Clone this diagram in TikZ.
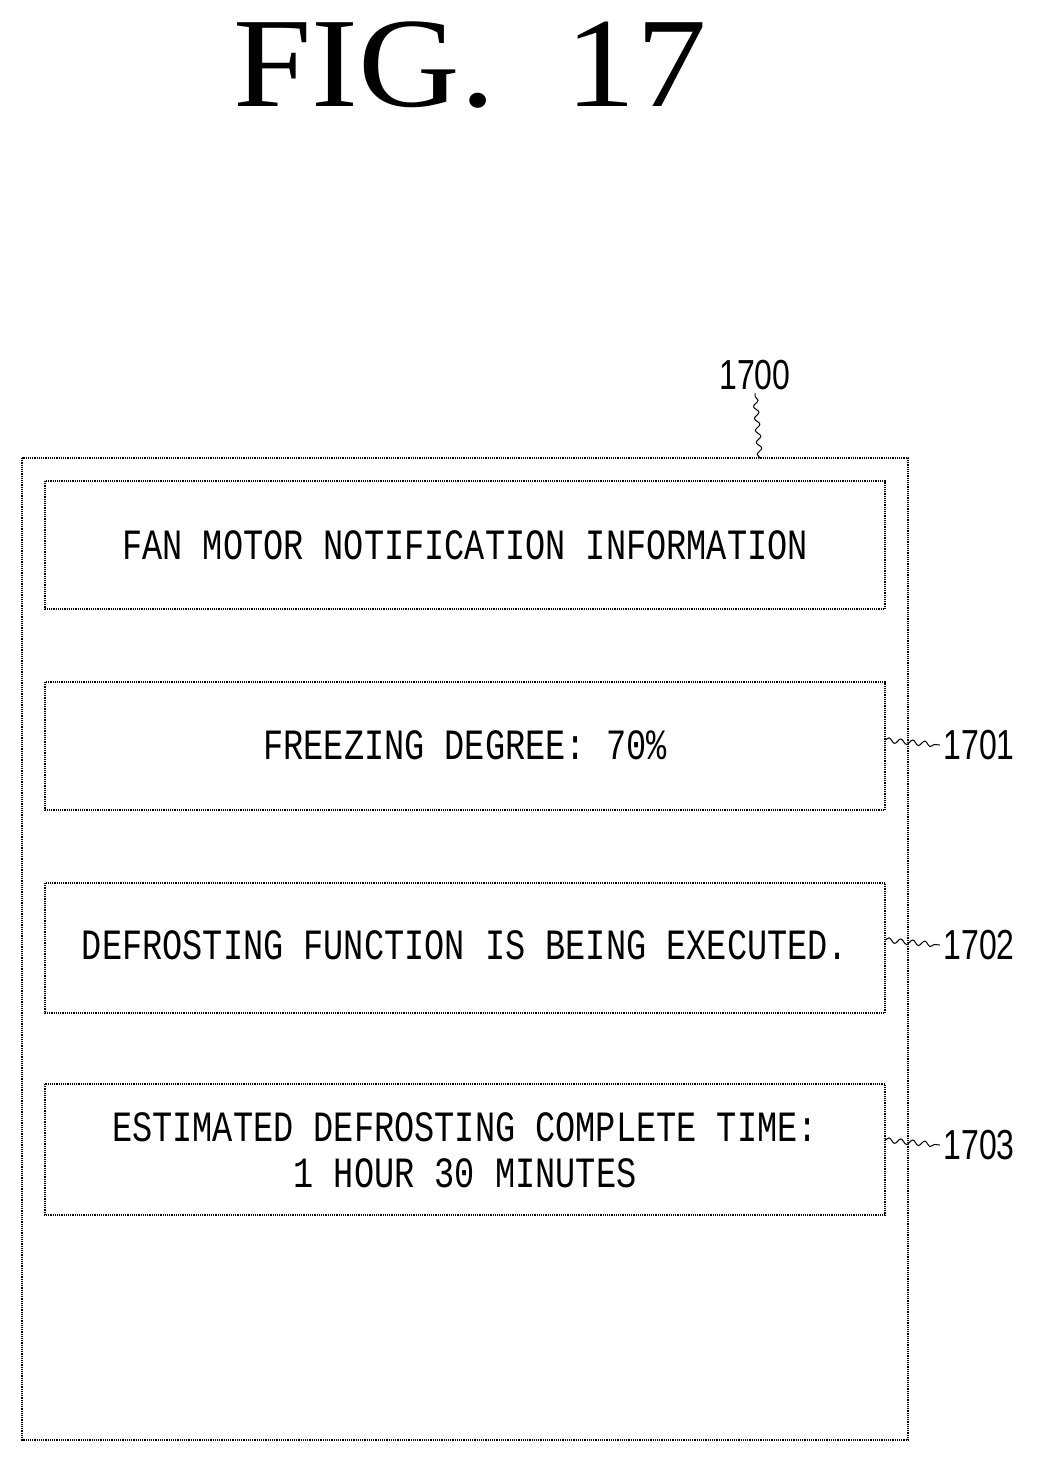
\documentclass[tikz,border=0pt]{standalone}
\usepackage{fontspec}
\setmainfont{Liberation Serif}
\newfontfamily\boxfont{Liberation Mono}
\newfontfamily\reffont{Liberation Sans}
\usetikzlibrary{decorations.pathmorphing}
\tikzset{
 panel/.style={draw, line width=1.2pt, densely dotted},
 msg/.style={draw, line width=1.2pt, densely dotted},
 txt/.style={font=\boxfont\fontsize{32}{50}\selectfont, align=center},
 lead/.style={line width=1pt, decorate, decoration={snake, amplitude=2.5pt, segment length=12pt}},
 ref/.style={font=\reffont\fontsize{40}{44}\selectfont, anchor=west}
}
\newcommand{\tall}[1]{\scalebox{1.05}[1.35]{#1}}
\newcommand{\nar}[1]{\scalebox{0.8}[1.05]{#1}}
\begin{document}
\begin{tikzpicture}[x=1pt,y=-1pt]
\useasboundingbox (0,0) rectangle (1057,1462);
\node (title) at (470,65) {\scalebox{1.1}[1]{\fontsize{128}{130}\selectfont FIG.\ \ 17}};
\draw[panel] (22,458) rectangle (908,1440);
\coordinate (ptop) at (760,458);
\node[ref, anchor=center] (l1700) at (755,375) {\nar{1700}};
\draw[lead] (ptop) -- (l1700.south);
\draw[msg] (45,481) rectangle (885,609);
\node[txt] (t0) at (465,545) {\tall{FAN MOTOR NOTIFICATION INFORMATION}};
\draw[msg] (45,682) rectangle (885,810);
\node[txt] (t1) at (465,745) {\tall{FREEZING DEGREE: 70\%}};
\draw[msg] (45,883) rectangle (885,1013);
\node[txt] (t2) at (465,945) {\tall{DEFROSTING FUNCTION IS BEING EXECUTED.}};
\draw[msg] (45,1084) rectangle (885,1215);
\node[txt] (t3) at (465,1150) {\tall{ESTIMATED DEFROSTING COMPLETE TIME:}\\[-4pt]\tall{1 HOUR 30 MINUTES}};
\coordinate (b1) at (885,740);
\coordinate (b2) at (885,940);
\coordinate (b3) at (885,1140);
\node[ref] (l1701) at (940,745) {\nar{1701}};
\node[ref] (l1702) at (940,945) {\nar{1702}};
\node[ref] (l1703) at (940,1145) {\nar{1703}};
\draw[lead] (b1) -- (l1701.west);
\draw[lead] (b2) -- (l1702.west);
\draw[lead] (b3) -- (l1703.west);
\end{tikzpicture}
\end{document}
